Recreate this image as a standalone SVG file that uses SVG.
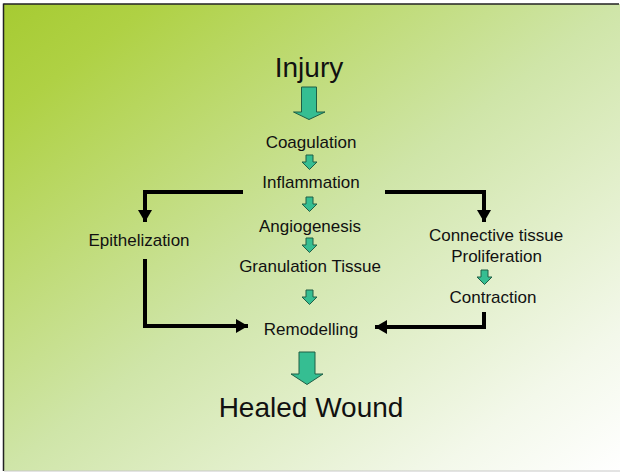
<svg xmlns="http://www.w3.org/2000/svg" width="624" height="472" viewBox="0 0 624 472">
<defs>
<linearGradient id="bg" x1="0" y1="0" x2="1" y2="1">
<stop offset="0" stop-color="#a6cb32"/>
<stop offset="0.12" stop-color="#afd144"/>
<stop offset="0.5" stop-color="#cfe5a8"/>
<stop offset="0.85" stop-color="#f3f8ea"/>
<stop offset="1" stop-color="#ffffff"/>
</linearGradient>
<marker id="ah" viewBox="0 0 12 14" refX="12" refY="7" markerWidth="12" markerHeight="14" markerUnits="userSpaceOnUse" orient="auto">
<path d="M0,0 L12,7 L0,14 Z" fill="#000"/>
</marker>
<path id="small" d="M-3.5,0 H3.5 V7 H7.5 L0,14.5 L-7.5,7 H-3.5 Z"/>
</defs>
<style>
.t{font-family:"Liberation Sans",Arial,sans-serif;fill:#111;text-anchor:middle}
.s{font-size:17px}
.b{font-size:28px}
.blk{fill:#35be92;stroke:#1f5e45;stroke-width:1}
.con{fill:none;stroke:#000;stroke-width:4;stroke-linejoin:miter}
</style>
<rect x="4" y="4" width="616" height="467" fill="url(#bg)"/>
<line x1="3.5" y1="4" x2="619" y2="4" stroke="#222" stroke-width="1.5"/>
<line x1="3.5" y1="3.5" x2="3.5" y2="471" stroke="#222" stroke-width="1.5"/>
<line x1="4" y1="471" x2="620" y2="471" stroke="#c8c8c8" stroke-width="1"/>

<g id="connectors">
<polyline class="con" points="243,192 145,192 145,222" marker-end="url(#ah)"/>
<polyline class="con" points="145,259 145,326 248,326" marker-end="url(#ah)"/>
<polyline class="con" points="385,192 484,192 484,222" marker-end="url(#ah)"/>
<polyline class="con" points="484,312 484,327 375,327" marker-end="url(#ah)"/>
<path class="blk" d="M301.5,87 H316.5 V112 H325 L309,119.5 L293.5,112 H301.5 Z"/>
<use href="#small" class="blk" transform="translate(309.5,155)"/>
<use href="#small" class="blk" transform="translate(309.5,197)"/>
<use href="#small" class="blk" transform="translate(309.5,238)"/>
<use href="#small" class="blk" transform="translate(309.5,290)"/>
<use href="#small" class="blk" transform="translate(484.5,270)"/>
<path class="blk" d="M299,352 H315 V374 H323 L307,384.5 L291,374 H299 Z"/>
</g>

<g id="injury"><text class="t b" x="309" y="77">Injury</text></g>
<g id="coagulation"><text class="t s" x="311" y="148">Coagulation</text></g>
<g id="inflammation"><text class="t s" x="311" y="188">Inflammation</text></g>
<g id="angiogenesis"><text class="t s" x="310" y="232">Angiogenesis</text></g>
<g id="granulation"><text class="t s" x="310" y="272">Granulation Tissue</text></g>
<g id="remodelling"><text class="t s" x="311" y="335">Remodelling</text></g>
<g id="epithelization"><text class="t s" x="139" y="246">Epithelization</text></g>
<g id="connective"><text class="t s" x="496" y="241">Connective tissue</text><text class="t s" x="496.5" y="262">Proliferation</text></g>
<g id="contraction"><text class="t s" x="493" y="303">Contraction</text></g>
<g id="healed"><text class="t b" x="311" y="417">Healed Wound</text></g>
</svg>
